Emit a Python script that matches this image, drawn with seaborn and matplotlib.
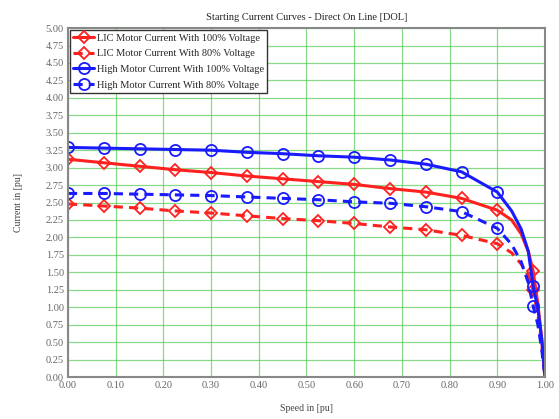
import numpy as np
import pandas as pd
import matplotlib
matplotlib.use("Agg")
import matplotlib.pyplot as plt
import seaborn as sns

# speed points (pu), markers on the first 13 and at 0.975
speed = [0.0, 0.075, 0.15, 0.225, 0.30, 0.375, 0.45, 0.525, 0.60, 0.675, 0.75,
         0.825, 0.90, 0.93, 0.95, 0.965, 0.975, 0.985, 0.993, 1.0]
mark_idx = list(range(13)) + [16]

lic_100 = [3.12, 3.07, 3.02, 2.97, 2.93, 2.88, 2.84, 2.80, 2.76, 2.70, 2.65,
           2.56, 2.39, 2.25, 2.05, 1.80, 1.52, 1.05, 0.55, 0.0]
lic_80 = [2.48, 2.45, 2.42, 2.38, 2.35, 2.31, 2.27, 2.24, 2.20, 2.15, 2.11,
          2.03, 1.91, 1.78, 1.62, 1.45, 1.25, 0.90, 0.48, 0.0]
high_100 = [3.29, 3.28, 3.27, 3.26, 3.25, 3.22, 3.20, 3.17, 3.15, 3.11, 3.05,
            2.94, 2.65, 2.38, 2.12, 1.80, 1.30, 0.98, 0.55, 0.0]
high_80 = [2.63, 2.63, 2.62, 2.61, 2.60, 2.58, 2.56, 2.54, 2.51, 2.49, 2.44,
           2.37, 2.13, 1.90, 1.65, 1.35, 1.02, 0.75, 0.40, 0.0]

labels = ["LIC Motor Current With 100% Voltage",
          "LIC Motor Current With 80% Voltage",
          "High Motor Current With 100% Voltage",
          "High Motor Current With 80% Voltage"]

x_ticks = np.arange(0, 1.01, 0.1)
y_ticks = np.arange(0, 5.01, 0.25)

sns.set_theme(style="white")
plt.rcParams['font.family'] = ['Liberation Serif', 'DejaVu Serif']

fig = plt.figure(figsize=(5.59, 4.19), dpi=100)
ax = fig.add_axes([0.1216, 0.1002, 0.8534, 0.8328])

styles = [("#ff2020", "-", "D", lic_100),
          ("#ff2020", (0, (3, 2)), "D", lic_80),
          ("#1a1aff", "-", "o", high_100),
          ("#1a1aff", (0, (3, 2)), "o", high_80)]

for (col, ls, mk, vals), lab in zip(styles, labels):
    df = pd.DataFrame({"speed": speed, "current": vals})
    sns.lineplot(data=df, x="speed", y="current", ax=ax, color=col,
                 linestyle=ls, linewidth=2.2, marker=mk,
                 markersize=8 if mk == "o" else 6.5,
                 markerfacecolor="none", markeredgecolor=col, markeredgewidth=1.3,
                 markevery=mark_idx, label=lab, sort=False)

ax.set_xlim(0, 1.0)
ax.set_ylim(0, 5.0)
ax.set_xticks(x_ticks)
ax.set_yticks(y_ticks)
ax.set_xticklabels([f"{v:.2f}" for v in x_ticks])
ax.set_yticklabels([f"{v:.2f}" for v in y_ticks])
ax.tick_params(axis="both", labelsize=7.5, colors="#666666", length=2, pad=1)
ax.grid(True, color="#55cc55", linewidth=0.9, alpha=0.7)
ax.set_axisbelow(True)
for sp in ax.spines.values():
    sp.set_color("#888888")
    sp.set_linewidth(1.5)

ax.set_title("Starting Current Curves - Direct On Line [DOL]", fontsize=7.5, pad=6)
ax.set_xlabel("Speed in [pu]", fontsize=7, labelpad=10)
ax.set_ylabel("Current in [pu]", fontsize=7, labelpad=16, color="#444444")
ax.xaxis.label.set_color("#444444")

leg = ax.legend(loc="upper left", fontsize=7.5, frameon=True, fancybox=False,
                borderaxespad=0.2, handlelength=2.0, handletextpad=0.3,
                labelspacing=0.62, borderpad=0.3, framealpha=1.0)
leg.get_frame().set_edgecolor("#333333")
leg.get_frame().set_linewidth(1.0)

fig.savefig("out.png", dpi=100)
